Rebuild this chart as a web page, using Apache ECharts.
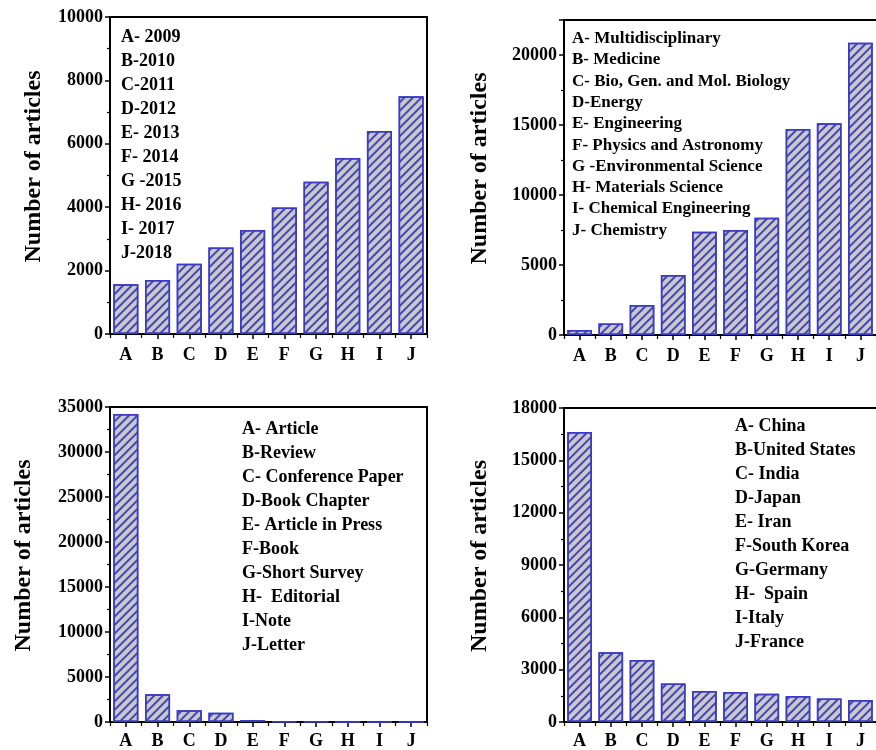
<!DOCTYPE html>
<html>
<head>
<meta charset="utf-8">
<script src="https://cdn.jsdelivr.net/npm/echarts@6/dist/echarts.min.js"></script>
<style>html,body{margin:0;padding:0;background:#fff;}#c{width:876px;height:750px;}</style>
</head>
<body>
<div id="c"></div>
<script>
const categories = ['A','B','C','D','E','F','G','H','I','J'];

const yearValues = [1570, 1700, 2220, 2730, 3280, 3990, 4800, 5550, 6400, 7500];
const yearLegend = ['A- 2009','B-2010','C-2011','D-2012','E- 2013','F- 2014','G -2015','H- 2016','I- 2017','J-2018'];

const subjectValues = [350, 830, 2140, 4290, 7380, 7500, 8380, 14710, 15120, 20880];
const subjectLegend = ['A- Multidisciplinary','B- Medicine','C- Bio, Gen. and Mol. Biology','D-Energy','E- Engineering','F- Physics and Astronomy','G -Environmental Science','H- Materials Science','I- Chemical Engineering','J- Chemistry'];

const typeValues = [34220, 3070, 1300, 1040, 220, 80, 30, 20, 10, 5];
const typeLegend = ['A- Article','B-Review','C- Conference Paper','D-Book Chapter','E- Article in Press','F-Book','G-Short Survey','H-  Editorial','I-Note','J-Letter'];

const countryValues = [16620, 4000, 3550, 2210, 1770, 1720, 1620, 1490, 1340, 1260];
const countryLegend = ['A- China','B-United States','C- India','D-Japan','E- Iran','F-South Korea','G-Germany','H-  Spain','I-Italy','J-France'];

const yMax = [10000, 22500, 35000, 18000];
const yInterval = [2000, 5000, 5000, 3000];

const FONT = '"Liberation Serif", "Times New Roman", serif';
const grids = [
  {left: 110, top: 17, width: 317, height: 317},
  {left: 564, top: 20, width: 315, height: 315},
  {left: 110, top: 407, width: 317, height: 316},
  {left: 564, top: 408, width: 315, height: 315}
];
const hasRightFrame = [true, false, true, false];
const labelMargins = [12, 12, 10, 10];
const nameGaps = [64, 72, 74, 72];
const seriesData = [yearValues, subjectValues, typeValues, countryValues];
const legends = [yearLegend, subjectLegend, typeLegend, countryLegend];
const legendPos = [
  {x: 121, y: 25, fs: 18, lh: 24},
  {x: 572, y: 28, fs: 17, lh: 21.3},
  {x: 242, y: 417, fs: 18, lh: 24},
  {x: 735, y: 414, fs: 18, lh: 24}
];

const frameLine = {show: true, lineStyle: {color: '#000', width: 2}};
const option = {
  animation: false,
  backgroundColor: '#fff',
  grid: grids.map(g => Object.assign({show: false}, g)),
  xAxis: [],
  yAxis: [],
  series: [],
  graphic: []
};

for (let i = 0; i < 4; i++) {
  option.xAxis.push({
    type: 'category', gridIndex: i, data: categories,
    axisLine: frameLine,
    axisTick: {show: true, alignWithLabel: true, length: 5, lineStyle: {color: '#000', width: 1.5}},
    axisLabel: {color: '#000', fontFamily: FONT, fontWeight: 'bold', fontSize: 18, margin: labelMargins[i]},
    splitLine: {show: false}
  });
  option.xAxis.push({
    type: 'category', gridIndex: i, data: categories, position: 'bottom',
    axisLine: {show: false},
    axisTick: {show: true, length: 4, lineStyle: {color: '#000', width: 1.2}},
    axisLabel: {show: false},
    splitLine: {show: false}
  });
  option.xAxis.push({
    type: 'category', gridIndex: i, data: categories, position: 'top',
    axisLine: frameLine, axisTick: {show: false}, axisLabel: {show: false}, splitLine: {show: false}
  });
  option.yAxis.push({
    type: 'value', gridIndex: i, min: 0, max: yMax[i], interval: yInterval[i],
    name: 'Number of articles', nameLocation: 'middle', nameGap: nameGaps[i], nameRotate: 90,
    nameTextStyle: {color: '#000', fontFamily: FONT, fontWeight: 'bold', fontSize: 24, padding: [0, 0, 0, 18]},
    axisLine: frameLine,
    axisTick: {show: true, length: 5, lineStyle: {color: '#000', width: 1.5}},
    minorTick: {show: true, splitNumber: 2, length: 3, lineStyle: {color: '#000', width: 1.2}},
    axisLabel: {color: '#000', fontFamily: FONT, fontWeight: 'bold', fontSize: 18, margin: 7, showMaxLabel: i !== 1,
      formatter: v => String(v)},
    splitLine: {show: false}
  });
  option.series.push({
    type: 'bar', xAxisIndex: i * 3, yAxisIndex: i, data: seriesData[i],
    barCategoryGap: '21%',
    itemStyle: {
      color: '#c9c9c9', borderColor: '#3a3ac4', borderWidth: 1.5,
      decal: {symbol: 'rect', symbolSize: 1, color: '#4545b8', dashArrayX: [1, 0], dashArrayY: [1.6, 3.6], rotation: -Math.PI / 4}
    }
  });
  const lp = legendPos[i];
  option.graphic.push({
    type: 'text', left: lp.x, top: lp.y, z: 10,
    style: {text: legends[i].join('\n'), fill: '#000', font: 'bold ' + lp.fs + 'px ' + FONT, lineHeight: lp.lh}
  });
}
for (let i = 0; i < 4; i++) {
  if (!hasRightFrame[i]) continue;
  option.yAxis.push({
    type: 'value', gridIndex: i, position: 'right', min: 0, max: yMax[i],
    axisLine: frameLine, axisTick: {show: false}, axisLabel: {show: false}, splitLine: {show: false}
  });
}

const chart = echarts.init(document.getElementById('c'), null, {renderer: 'canvas'});
chart.setOption(option);
</script>
</body>
</html>
